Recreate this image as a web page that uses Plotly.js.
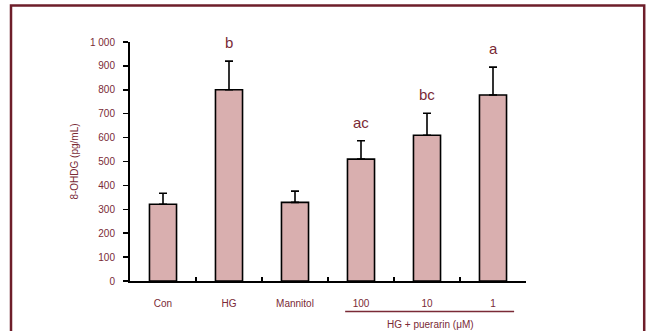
<!DOCTYPE html>
<html>
<head>
<meta charset="utf-8">
<script src="https://cdn.plot.ly/plotly-3.0.1.min.js"></script>
<style>html,body{margin:0;padding:0;background:#fff;}#chart{width:648px;height:331px;}</style>
</head>
<body>
<div id="chart"></div>
<script>
const categories = ["Con", "HG", "Mannitol", "100", "10", "1"];
const means = [321, 800, 329, 510, 610, 778];
const errors = [46, 120, 47, 77, 92, 117];
const letters = ["", "b", "", "ac", "bc", "a"];
const yTickVals = [0, 100, 200, 300, 400, 500, 600, 700, 800, 900, 1000];
const yTickText = ["0", "100", "200", "300", "400", "500", "600", "700", "800", "900", "1 000"];
const groupLabel = "HG + puerarin (μM)";
const groupStart = 3, groupEnd = 5;

const textColor = "#7a2a36";
const frameColor = "#6e1e2a";

const trace = {
  type: "bar",
  x: categories,
  y: means,
  width: 0.41,
  marker: {color: "#d9afaf", line: {color: "#000", width: 1.6}},
  error_y: {type: "data", symmetric: false, array: errors, arrayminus: errors.map(() => 0),
    visible: true, color: "#000", thickness: 1.6, width: 4},
  hoverinfo: "skip"
};

const annotations = [];
categories.forEach((c, i) => {
  if (letters[i]) {
    annotations.push({x: i, y: means[i] + errors[i], xref: "x", yref: "y", text: letters[i],
      showarrow: false, yanchor: "bottom", yshift: 8, font: {family: "Liberation Sans, Arial", size: 15, color: textColor}});
  }
});
annotations.push({x: (groupStart + groupEnd) / 2, y: -0.18, xref: "x", yref: "paper", text: groupLabel,
  showarrow: false, yanchor: "middle", xshift: 3, font: {family: "Liberation Sans, Arial", size: 10, color: textColor}});

const layout = {
  width: 648, height: 331,
  margin: {l: 130, r: 122, t: 42, b: 50},
  paper_bgcolor: "#fff", plot_bgcolor: "#fff",
  showlegend: false,
  font: {family: "Liberation Sans, Arial", size: 10, color: textColor},
  xaxis: {
    type: "category", range: [-0.5, 5.5],
    showline: true, linecolor: "#000", linewidth: 2,
    ticks: "inside", tickson: "boundaries", ticklen: 4, tickcolor: "#000", tickwidth: 1.5,
    showgrid: false, zeroline: false,
    tickfont: {size: 10, color: textColor}, ticklabelstandoff: 12
  },
  yaxis: {
    range: [0, 1000], tickvals: yTickVals, ticktext: yTickText,
    showline: true, linecolor: "#000", linewidth: 2,
    ticks: "outside", ticklen: 5, tickcolor: "#000", tickwidth: 1.5,
    showgrid: false, zeroline: false,
    tickfont: {size: 10, color: textColor}, ticklabelstandoff: 6,
    title: {text: "8-OHDG (pg/mL)", font: {size: 10, color: textColor}, standoff: 9}
  },
  shapes: [
    {type: "rect", xref: "paper", yref: "paper", x0: -0.3005, x1: 1.2985, y0: 1.153, y1: -0.4,
      line: {color: frameColor, width: 2.5}, fillcolor: "rgba(0,0,0,0)", layer: "below"},
    {type: "line", xref: "x", yref: "paper", x0: groupStart - 0.24, x1: groupEnd + 0.32, y0: -0.128, y1: -0.128,
      line: {color: textColor, width: 1.5}}
  ],
  annotations: annotations
};

Plotly.newPlot("chart", [trace], layout, {displayModeBar: false, staticPlot: true});
</script>
</body>
</html>
